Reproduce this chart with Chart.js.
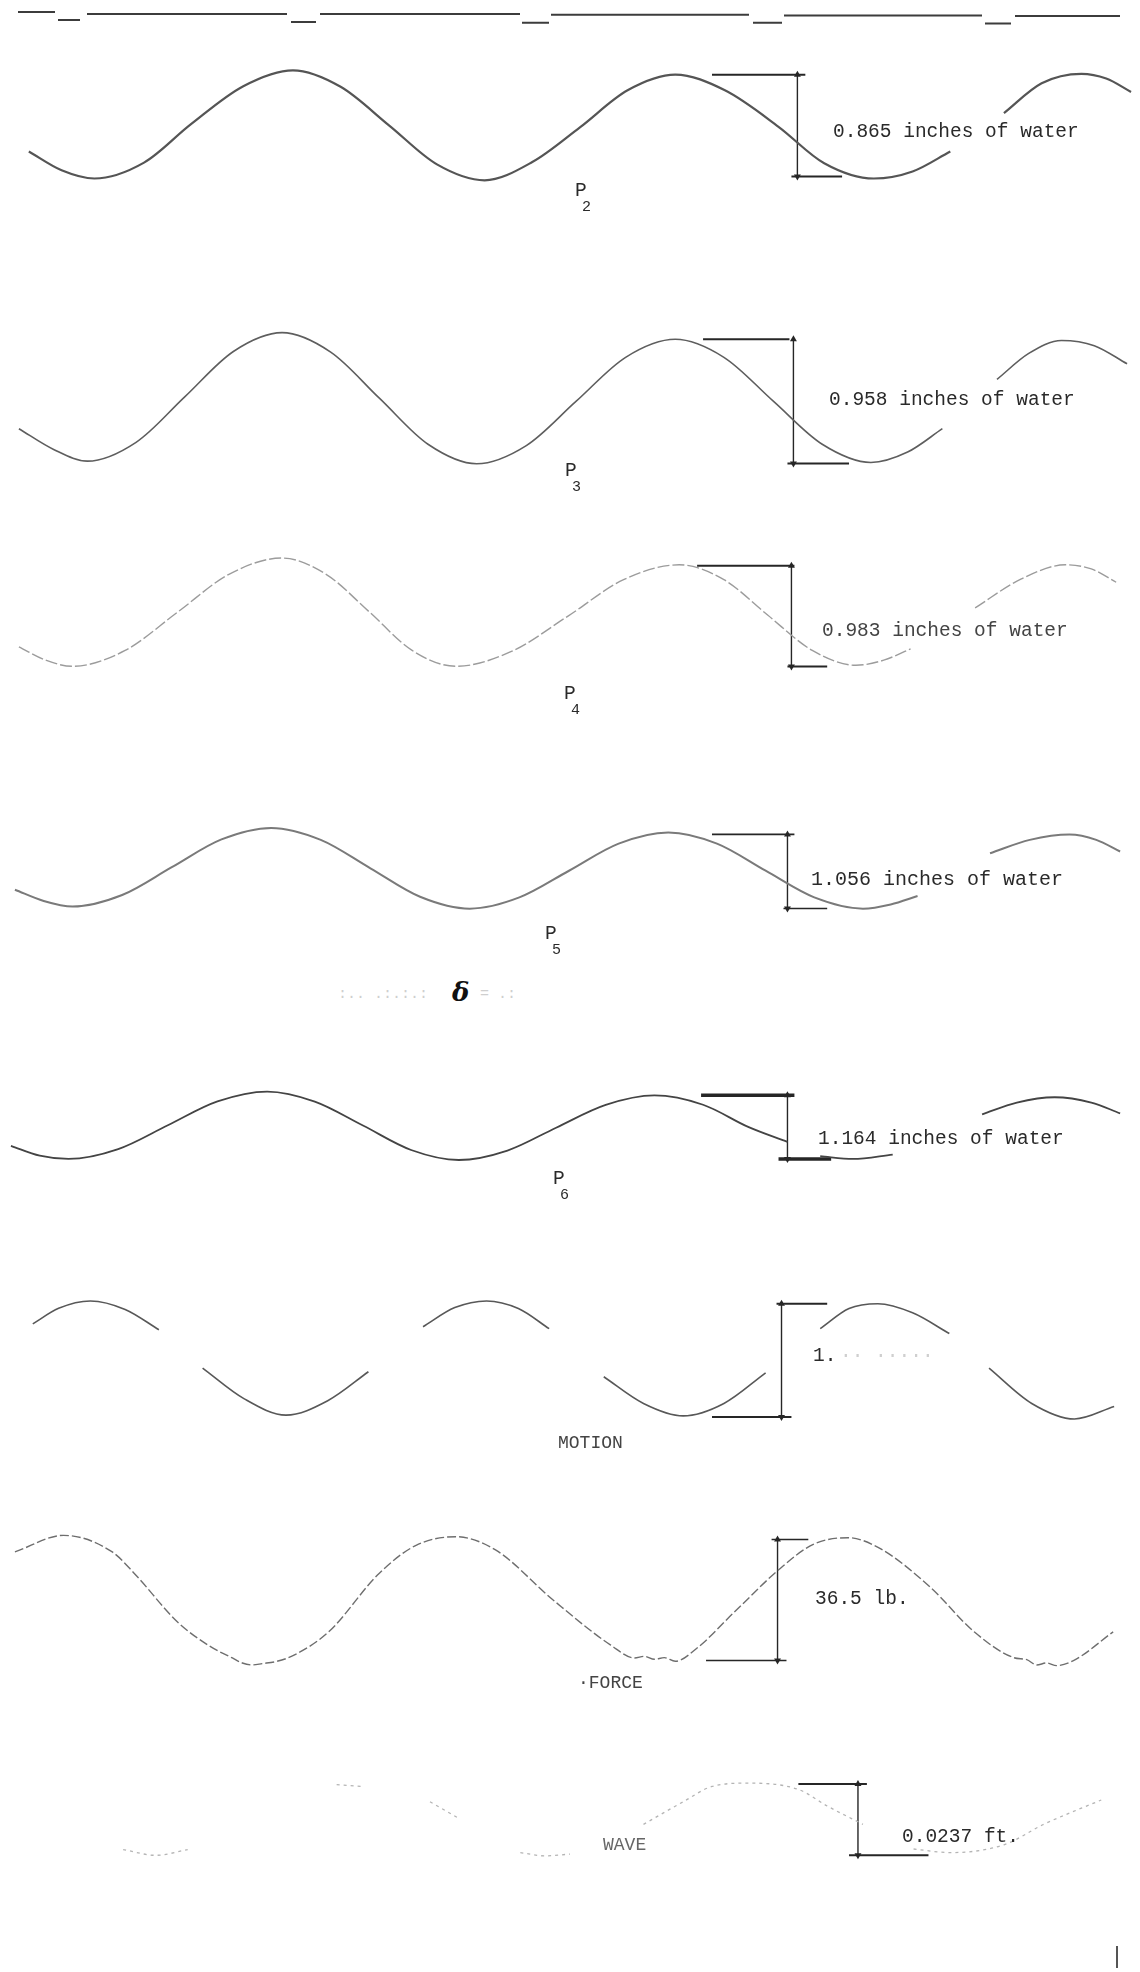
<!DOCTYPE html>
<html>
<head>
<meta charset="utf-8">
<script src="https://cdn.jsdelivr.net/npm/chart.js@4/dist/chart.umd.min.js"></script>
<style>
html, body { margin: 0; padding: 0; background: #fff; }
#page { position: relative; width: 1140px; height: 1972px; overflow: hidden; background: #fff; }
.panel { position: absolute; left: 0; }
.lbl { position: absolute; font-family: "Liberation Mono", "DejaVu Sans Mono", monospace; font-size: 19.5px; color: #2a2a2a; white-space: pre; line-height: 1; transform: translateY(-50%); }
.sub { font-size: 15px; }
.faint { color: #cfcfcf; }
.bar { position: absolute; background: #555; }
</style>
</head>
<body>
<div id="page"></div>
<script>
// recorder time axis (chart units) shared by every trace
const timeMin = 0, timeMax = 114;

// timing marks along the top edge (1 = high, 0 = low)
const markTime  = [1.8, 5.5, null, 5.8, 8.0, null, 8.7, 28.7, null, 29.1, 31.6, null, 32.0, 52.0, null, 52.2, 54.9, null, 55.1, 74.9, null, 75.3, 78.2, null, 78.4, 98.2, null, 98.5, 101.1, null, 101.5, 112.0];
const markLevel = [1.25, 1.25, null, 0.25, 0.25, null, 1, 1, null, 0, 0, null, 1, 1, null, -0.1, -0.1, null, 0.9, 0.9, null, -0.1, -0.1, null, 0.8, 0.8, null, -0.2, -0.2, null, 0.75, 0.75];

// pressure traces, inches of water
const p2Time = [2.5, 5.8, 9.1, 14.1, 18.8, 24.1, 29.1, 33.9, 38.8, 43.6, 48.4, 53.2, 58.0, 62.8, 67.6, 72.6, 78.0, 82.6, 87.6, 91.5, 95.3, null, 100.7, 104.5, 108.5, 111.0, 113.5];
const p2Head = [-0.22, -0.38, -0.45, -0.315, 0.01, 0.335, 0.47, 0.33, 0.0, -0.33, -0.465, -0.31, -0.015, 0.30, 0.433, 0.30, -0.01, -0.32, -0.45, -0.39, -0.22, null, 0.106, 0.36, 0.44, 0.40, 0.286];

const p3Time = [1.5, 5.0, 8.4, 13.3, 18.2, 23.1, 28.0, 32.9, 37.8, 42.7, 47.6, 52.6, 57.6, 62.6, 67.6, 72.5, 77.5, 82.4, 87.3, 91.0, 94.5, null, 100.0, 103.2, 106.5, 109.8, 113.1];
const p3Head = [-0.21, -0.37, -0.46, -0.315, 0.035, 0.385, 0.53, 0.38, 0.025, -0.33, -0.48, -0.34, 0.0, 0.34, 0.479, 0.34, 0.0, -0.33, -0.47, -0.39, -0.21, null, 0.17, 0.37, 0.47, 0.43, 0.29];

const p4Time = [1.5, 4.2, 6.9, 12.2, 17.5, 22.7, 28.0, 32.4, 36.8, 41.1, 45.5, 51.1, 56.8, 62.4, 68.0, 72.5, 76.9, 81.4, 85.8, 88.6, 91.3, null, 97.8, 102.4, 106.9, 109.5, 112.0];
const p4Head = [-0.30, -0.43, -0.49, -0.335, 0.04, 0.41, 0.566, 0.41, 0.04, -0.335, -0.49, -0.345, 0.0, 0.355, 0.50, 0.355, 0.01, -0.335, -0.48, -0.43, -0.32, null, 0.08, 0.36, 0.50, 0.46, 0.33];

const p5Time = [1.1, 4.0, 6.9, 11.9, 16.9, 21.9, 26.9, 31.9, 36.9, 41.9, 46.9, 51.9, 56.9, 61.9, 66.9, 71.8, 76.7, 81.6, 86.5, 89.3, 92.0, null, 99.3, 103.3, 107.3, 110.0, 112.4];
const p5Head = [-0.26, -0.42, -0.50, -0.336, 0.06, 0.456, 0.62, 0.45, 0.045, -0.36, -0.53, -0.37, 0.01, 0.396, 0.555, 0.396, 0.01, -0.37, -0.53, -0.47, -0.35, null, 0.26, 0.45, 0.527, 0.45, 0.284];

const p6Time = [0.7, 3.6, 6.5, 11.5, 16.5, 21.5, 26.5, 31.3, 36.2, 41.0, 45.8, 50.7, 55.6, 60.6, 65.5, 70.4, 75.0, 78.9, null, 82.2, 85.5, 89.5, null, 98.5, 102.0, 105.8, 109.5, 112.4];
const p6Head = [-0.34, -0.52, -0.58, -0.40, 0.035, 0.47, 0.65, 0.467, 0.025, -0.417, -0.60, -0.427, -0.01, 0.407, 0.58, 0.41, 0.0, -0.27, null, -0.53, -0.58, -0.50, null, 0.234, 0.45, 0.547, 0.45, 0.252];

// body motion
const motionTime = [2.9, 5.5, 8.7, 12.2, 15.6, null, 20.0, 24.2, 28.4, 32.6, 36.7, null, 42.2, 45.4, 48.6, 51.8, 54.9, null, 60.4, 64.4, 68.4, 72.5, 76.7, null, 82.2, 85.1, 88.0, 91.5, 95.2, null, 99.2, 103.5, 107.8, 111.8];
const motionDisp = [0.322, 0.46, 0.525, 0.45, 0.271, null, -0.068, -0.34, -0.483, -0.356, -0.10, null, 0.297, 0.466, 0.525, 0.458, 0.28, null, -0.144, -0.38, -0.49, -0.38, -0.11, null, 0.28, 0.458, 0.50, 0.42, 0.237, null, -0.068, -0.38, -0.517, -0.407];

// force, lb
const forceTime = [1.1, 6.0, 10.9, 13.1, 17.5, 20.7, 23.0, 24.0, 25.0, 26.0, 27.5, 29.1, 32.7, 37.8, 41.5, 45.5, 49.5, 55.3, 61.1, 63.5, 64.5, 65.5, 66.5, 67.6, 69.8, 73.5, 78.2, 81.5, 85.0, 88.3, 93.3, 97.7, 101.7, 103.0, 104.0, 105.0, 106.0, 107.7, 111.7];
const forceLoad = [14.5, 19.5, 14.5, 8.1, -6.7, -13.9, -17.5, -19.0, -19.6, -19.2, -18.5, -16.8, -9.6, 8.1, 16.5, 19.1, 15.1, 0.0, -13.6, -17.5, -17.0, -17.9, -17.4, -18.5, -14.5, -3.8, 9.6, 16.8, 18.8, 15.4, 3.8, -9.6, -17.4, -18.0, -19.6, -19.0, -19.8, -18.3, -9.6];

// wave height, ft
const waveTime  = [12.0, 15.3, 18.5, null, 33.5, 36.0, null, 42.9, 45.8, null, 52.0, 54.5, 57.0, null, 64.4, 68.4, 71.3, 74.9, 80.0, 82.9, 86.5, null, 91.6, 95.3, 100.7, 104.7, 110.5];
const waveLevel = [-0.010, -0.0119, -0.010, null, 0.0116, 0.0110, null, 0.0059, 0.0004, null, -0.0110, -0.0121, -0.0115, null, -0.0016, 0.0059, 0.011, 0.0121, 0.010, 0.0045, -0.0016, null, -0.0098, -0.011, -0.0084, -0.0016, 0.0065];

// peak-to-peak spans written beside each trace
const spans = { p2: 0.865, p3: 0.958, p4: 0.983, p5: 1.056, p6: 1.164, motion: 1.0, force: 36.5, wave: 0.0237 };

const page = document.getElementById('page');

function points(t, v) {
    return t.map((x, i) => x === null ? { x: t[i - 1], y: null } : { x: x, y: v[i] });
}

function trace(t, v, color, width, dash, tension) {
    return {
        data: points(t, v), borderColor: color, borderWidth: width, borderDash: dash || [],
        pointRadius: 0, fill: false, spanGaps: false,
        cubicInterpolationMode: tension === 0 ? 'default' : 'monotone', tension: tension === 0 ? 0 : 0.4
    };
}

// dimension marker: two end rules and an arrowed vertical between them
function dimension(span, d) {
    const h = span / 2, ink = '#262626';
    return [
        { data: [{ x: d.top[0], y: h }, { x: d.top[1], y: h }], borderColor: ink, borderWidth: d.rule || 2, pointRadius: 0 },
        { data: [{ x: d.bottom[0], y: -h }, { x: d.bottom[1], y: -h }], borderColor: ink, borderWidth: d.rule || 2, pointRadius: 0 },
        { data: [{ x: d.at, y: -h }, { x: d.at, y: h }], borderColor: ink, borderWidth: 1.4,
          pointStyle: 'triangle', pointRadius: 4, pointRotation: [180, 0], pointBackgroundColor: ink, pointBorderColor: ink, pointBorderWidth: 0 }
    ];
}

function panel(top, height, center, pxPerUnit, datasets) {
    const c = document.createElement('canvas');
    c.width = 1140; c.height = height;
    c.className = 'panel'; c.style.top = top + 'px';
    page.appendChild(c);
    new Chart(c, {
        type: 'line',
        data: { datasets: datasets },
        options: {
            responsive: false, animation: false, events: [],
            layout: { padding: 0 },
            plugins: { legend: { display: false }, tooltip: { enabled: false } },
            scales: {
                x: { type: 'linear', display: false, min: timeMin, max: timeMax },
                y: { display: false, min: -(top + height - center) / pxPerUnit, max: (center - top) / pxPerUnit }
            }
        }
    });
}

function label(text, left, mid, cls, style) {
    const d = document.createElement('div');
    d.className = 'lbl' + (cls ? ' ' + cls : '');
    d.textContent = text;
    d.style.left = left + 'px'; d.style.top = mid + 'px';
    if (style) Object.assign(d.style, style);
    page.appendChild(d);
}

function pLabel(n, left, mid) {
    label('P', left, mid);
    label(String(n), left + 7, mid + 15, 'sub');
}

panel(0, 40, 22, 8, [trace(markTime, markLevel, '#3c3c3c', 2, null, 0)]);

panel(40, 200, 125, 122.5, [
    trace(p2Time, p2Head, '#555', 2.2),
    ...dimension(spans.p2, { at: 79.9, top: [71.3, 80.7], bottom: [79.3, 84.4] })
]);
panel(290, 220, 401.5, 134.7, [
    trace(p3Time, p3Head, '#5e5e5e', 1.6),
    ...dimension(spans.p3, { at: 79.5, top: [70.4, 79.1], bottom: [78.9, 85.1] })
]);
panel(530, 200, 615.5, 106.8, [
    trace(p4Time, p4Head, '#9c9c9c', 1.4, [12, 3]),
    ...dimension(spans.p4, { at: 79.3, top: [69.8, 79.6], bottom: [78.9, 82.9] })
]);
panel(800, 160, 871, 73.9, [
    trace(p5Time, p5Head, '#7a7a7a', 2),
    ...dimension(spans.p5, { at: 78.9, top: [71.3, 79.6], bottom: [78.5, 82.9], rule: 1.6 })
]);
panel(1060, 160, 1126.5, 57.6, [
    trace(p6Time, p6Head, '#444', 1.8),
    ...dimension(spans.p6, { at: 78.9, top: [70.2, 79.6], bottom: [78.0, 83.3], rule: 3.5 })
]);
panel(1270, 200, 1360, 118, [
    trace(motionTime, motionDisp, '#585858', 1.6),
    ...dimension(spans.motion, { at: 78.3, top: [77.8, 82.9], bottom: [71.3, 79.3] })
]);
panel(1500, 200, 1600, 3.452, [
    trace(forceTime, forceLoad, '#6e6e6e', 1.4, [9, 3]),
    ...dimension(spans.force, { at: 77.9, top: [77.3, 81.0], bottom: [70.7, 78.8], rule: 1.6 })
]);
panel(1740, 160, 1819.5, 3165, [
    trace(waveTime, waveLevel, '#b4b4b4', 1.3, [3, 4]),
    ...dimension(spans.wave, { at: 86.0, top: [80.0, 86.9], bottom: [85.1, 93.1] })
]);

label(spans.p2.toFixed(3) + ' inches of water', 833, 133);
label(spans.p3.toFixed(3) + ' inches of water', 829, 401);
label(spans.p4.toFixed(3) + ' inches of water', 822, 632, null, { color: '#444' });
label(spans.p5.toFixed(3) + ' inches of water', 811, 880, null, { fontSize: '20px' });
label(spans.p6.toFixed(3) + ' inches of water', 818, 1140);
label('1.', 813, 1357);
label('\u00b7\u00b7 \u00b7\u00b7\u00b7\u00b7\u00b7', 840, 1357, 'faint');
label('36.5 lb.', 815, 1600);
label('0.0237 ft.', 902, 1838);

pLabel(2, 575, 192);
pLabel(3, 565, 472);
pLabel(4, 564, 695);
pLabel(5, 545, 935);
pLabel(6, 553, 1180);
label('MOTION', 558, 1443, null, { fontSize: '18px', color: '#444' });
label('\u00b7FORCE', 578, 1683, null, { fontSize: '18px', color: '#444' });
label('WAVE', 603, 1845, null, { fontSize: '18px', color: '#666' });

// faded note between P5 and P6
label(':.. .:.:.:', 338, 994, 'faint', { fontSize: '15px' });
label('\u03b4', 452, 992, null, { fontFamily: '"DejaVu Serif", serif', fontStyle: 'italic', fontWeight: 'bold', fontSize: '26px', color: '#111' });
label('= .:', 480, 994, 'faint', { fontSize: '15px' });

const tick = document.createElement('div');
tick.className = 'bar';
Object.assign(tick.style, { left: '1116px', top: '1946px', width: '2px', height: '22px' });
page.appendChild(tick);
</script>
</body>
</html>
